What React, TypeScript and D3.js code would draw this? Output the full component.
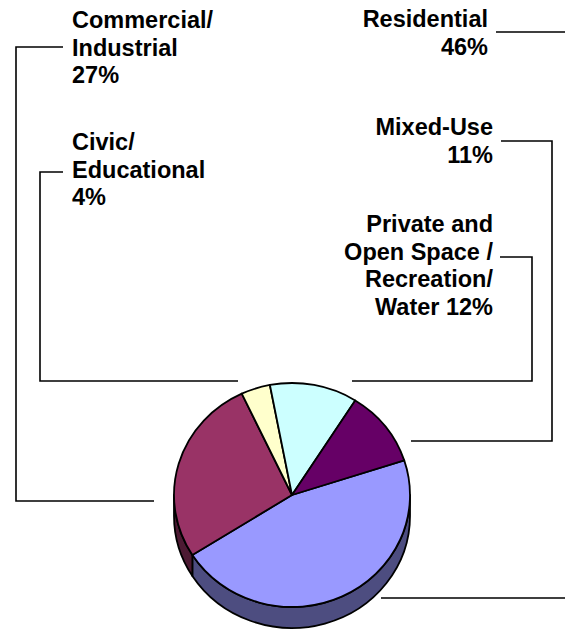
import React from "react";
import * as d3 from "d3";

// ---- data ----
const categories = [
  "Residential",
  "Commercial/Industrial",
  "Civic/Educational",
  "Private and Open Space / Recreation/ Water",
  "Mixed-Use",
];
const values = [46, 27, 4, 12, 11];
const topColors = ["#9999FF", "#993366", "#FFFFCC", "#CCFFFF", "#660066"];
const sideColors = ["#4D4D80", "#4D1A33", "#808066", "#668080", "#330033"];
const labelLines = [
  ["Residential", "46%"],
  ["Commercial/", "Industrial", "27%"],
  ["Civic/", "Educational", "4%"],
  ["Private and", "Open Space /", "Recreation/", "Water 12%"],
  ["Mixed-Use", "11%"],
];

// ---- layout (positions, not data) ----
const W = 565;
const H = 632;
const CX = 292;
const CY = 495;
const RX = 118;
const RY = 112;
const DEPTH = 21;
const START_DEG = 72;
const FONT = 23.5;
const LINE_H = 27.5;

type LabelLayout = {
  x: number;
  y: number; // first baseline
  anchor: "start" | "end";
  leader: [number, number][];
};
const labelLayout: LabelLayout[] = [
  { x: 488, y: 27, anchor: "end", leader: [[496, 32], [575, 32], [575, 598], [381, 598]] },
  { x: 72, y: 28, anchor: "start", leader: [[63, 47], [16, 47], [16, 501], [154, 501]] },
  { x: 72, y: 150, anchor: "start", leader: [[63, 172], [40, 172], [40, 381], [238, 381]] },
  { x: 493, y: 232, anchor: "end", leader: [[500, 257], [532, 257], [532, 381], [352, 381]] },
  { x: 493, y: 135, anchor: "end", leader: [[501, 141], [552, 141], [552, 441], [411, 441]] },
];

const pt = (a: number, dy = 0): [number, number] => [
  CX + RX * Math.sin(a),
  CY - RY * Math.cos(a) + dy,
];

export default function App() {
  const pie = d3
    .pie<number>()
    .sort(null)
    .value((d) => d)
    .startAngle((START_DEG * Math.PI) / 180)
    .endAngle((START_DEG * Math.PI) / 180 + 2 * Math.PI);
  const arcs = pie(values);

  const topPath = (a0: number, a1: number) => {
    const p = d3.path();
    const [x0, y0] = pt(a0);
    const [x1, y1] = pt(a1);
    const large = a1 - a0 > Math.PI ? 1 : 0;
    return `M${CX},${CY}L${x0},${y0}A${RX},${RY} 0 ${large} 1 ${x1},${y1}Z`;
  };

  // side walls: only the front half (angles between PI/2 and 3PI/2) is visible
  const sides: { d: string; color: string }[] = [];
  arcs.forEach((a, i) => {
    for (const off of [0, 2 * Math.PI]) {
      const s0 = Math.max(a.startAngle - off, Math.PI / 2);
      const s1 = Math.min(a.endAngle - off, (3 * Math.PI) / 2);
      if (s1 > s0) {
        const [x0, y0] = pt(s0);
        const [x1, y1] = pt(s1);
        const [x2, y2] = pt(s1, DEPTH);
        const [x3, y3] = pt(s0, DEPTH);
        sides.push({
          d: `M${x0},${y0}A${RX},${RY} 0 0 1 ${x1},${y1}L${x2},${y2}A${RX},${RY} 0 0 0 ${x3},${y3}Z`,
          color: sideColors[i],
        });
      }
    }
  });

  const line = d3.line();

  return (
    <svg
      width={W}
      height={H}
      viewBox={`0 0 ${W} ${H}`}
      style={{ position: "fixed", left: 0, top: 0, background: "#fff" }}
      fontFamily="'Liberation Sans', Arial, sans-serif"
    >
      <rect width={W} height={H} fill="#fff" />
      {labelLayout.map((l, i) => (
        <path
          key={"lead" + i}
          d={line(l.leader) || ""}
          fill="none"
          stroke="#000"
          strokeWidth={1.6}
        />
      ))}
      {sides.map((s, i) => (
        <path key={"side" + i} d={s.d} fill={s.color} stroke="#000" strokeWidth={1.8} strokeLinejoin="round" />
      ))}
      {arcs.map((a, i) => (
        <path
          key={"top" + i}
          d={topPath(a.startAngle, a.endAngle)}
          fill={topColors[i]}
          stroke="#000"
          strokeWidth={1.8}
          strokeLinejoin="round"
        >
          <title>{categories[i]}</title>
        </path>
      ))}
      {labelLayout.map((l, i) => (
        <text
          key={"lab" + i}
          x={l.x}
          y={l.y}
          textAnchor={l.anchor}
          fontSize={FONT}
          fontWeight="bold"
          fill="#000"
        >
          {labelLines[i].map((t, j) => (
            <tspan key={j} x={l.x} y={l.y + j * LINE_H}>
              {t}
            </tspan>
          ))}
        </text>
      ))}
    </svg>
  );
}
